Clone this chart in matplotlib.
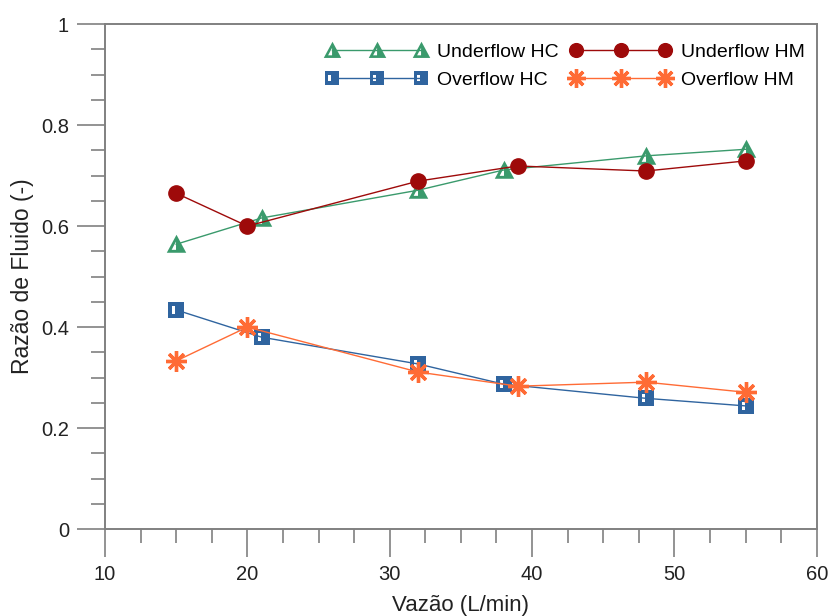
import numpy as np
import matplotlib
matplotlib.use("Agg")
import matplotlib.pyplot as plt
from matplotlib.path import Path
from matplotlib.ticker import MultipleLocator

plt.rcParams["font.family"] = ["Liberation Sans", "DejaVu Sans"]

# data
x_under_hc = [15, 21, 32, 38, 48, 55]
under_hc = [0.564, 0.616, 0.671, 0.711, 0.739, 0.752]
x_under_hm = [15, 20, 32, 39, 48, 55]
under_hm = [0.665, 0.600, 0.689, 0.719, 0.709, 0.729]
x_over_hc = [15, 21, 32, 38, 48, 55]
over_hc = [0.434, 0.380, 0.327, 0.287, 0.259, 0.244]
x_over_hm = [15, 20, 32, 39, 48, 55]
over_hm = [0.333, 0.400, 0.311, 0.283, 0.291, 0.271]

# marker shapes with a white slot inside
sq_verts = [(-1, -1), (1, -1), (1, 1), (-1, 1), (-1, -1),
            (-0.55, -0.45), (-0.55, 0.45), (-0.15, 0.45), (-0.15, -0.45), (-0.55, -0.45)]
sq_codes = [Path.MOVETO, Path.LINETO, Path.LINETO, Path.LINETO, Path.CLOSEPOLY] * 2
square_mark = Path(sq_verts, sq_codes)

tri_verts = [(-1, -0.85), (1, -0.85), (0, 1), (-1, -0.85),
             (-0.5, -0.55), (-0.05, 0.3), (-0.05, -0.55), (-0.5, -0.55)]
tri_codes = [Path.MOVETO, Path.LINETO, Path.LINETO, Path.CLOSEPOLY,
             Path.MOVETO, Path.LINETO, Path.LINETO, Path.CLOSEPOLY]
tri_mark = Path(tri_verts, tri_codes)

green = "#3a9a6c"
red = "#9e0a0a"
blue = "#2f649f"
orange = "#ff6b35"

fig = plt.figure(figsize=(8.3, 6.16), dpi=100)
ax = fig.add_axes([0.1265, 0.141, 0.8575, 0.82])

l1, = ax.plot(x_under_hc, under_hc, color=green, lw=1, marker=tri_mark, ms=14,
              mfc=green, mec=green, mew=0, label="Underflow HC")
l2, = ax.plot(x_under_hm, under_hm, color=red, lw=1, marker="o", ms=11,
              mfc=red, mec=red, label="Underflow HM")
l3, = ax.plot(x_over_hc, over_hc, color=blue, lw=1, marker=square_mark, ms=11.5,
              mfc=blue, mec=blue, mew=0, label="Overflow HC")
l4, = ax.plot(x_over_hm, over_hm, color=orange, lw=1, marker=(8, 2, 0), ms=15,
              mec=orange, mew=2.4, label="Overflow HM")

ax.set_xlim(10, 60)
ax.set_ylim(0, 1)
ax.xaxis.set_major_locator(MultipleLocator(10))
ax.xaxis.set_minor_locator(MultipleLocator(2.5))
ax.yaxis.set_major_locator(MultipleLocator(0.2))
ax.yaxis.set_minor_locator(MultipleLocator(0.05))
ax.set_yticks([0, 0.2, 0.4, 0.6, 0.8, 1.0])
ax.set_yticklabels(["0", "0.2", "0.4", "0.6", "0.8", "1"])

for s in ax.spines.values():
    s.set_color("#808080")
    s.set_linewidth(1.4)
ax.tick_params(which="both", direction="out", color="#808080", width=1.2,
               labelsize=14.5, labelcolor="#222222", top=False, right=False)
ax.tick_params(which="major", length=20, pad=6)
ax.tick_params(which="minor", length=10)

ax.set_xlabel("Vazão (L/min)", fontsize=16, color="#222222", labelpad=8)
ax.set_ylabel("Razão de Fluido (-)", fontsize=16.5, color="#222222", labelpad=5)

leg = ax.legend(handles=[l1, l3, l2, l4], ncol=2, loc="upper right",
                bbox_to_anchor=(0.979, 0.943), bbox_transform=fig.transFigure,
                frameon=False, numpoints=3, handlelength=5.2, fontsize=14,
                columnspacing=0.6, handletextpad=0.5, labelspacing=0.55,
                borderaxespad=0)
for h in leg.legend_handles:
    h.set_markersize(h.get_markersize() * 0.9)

fig.savefig("out.png", dpi=100)
